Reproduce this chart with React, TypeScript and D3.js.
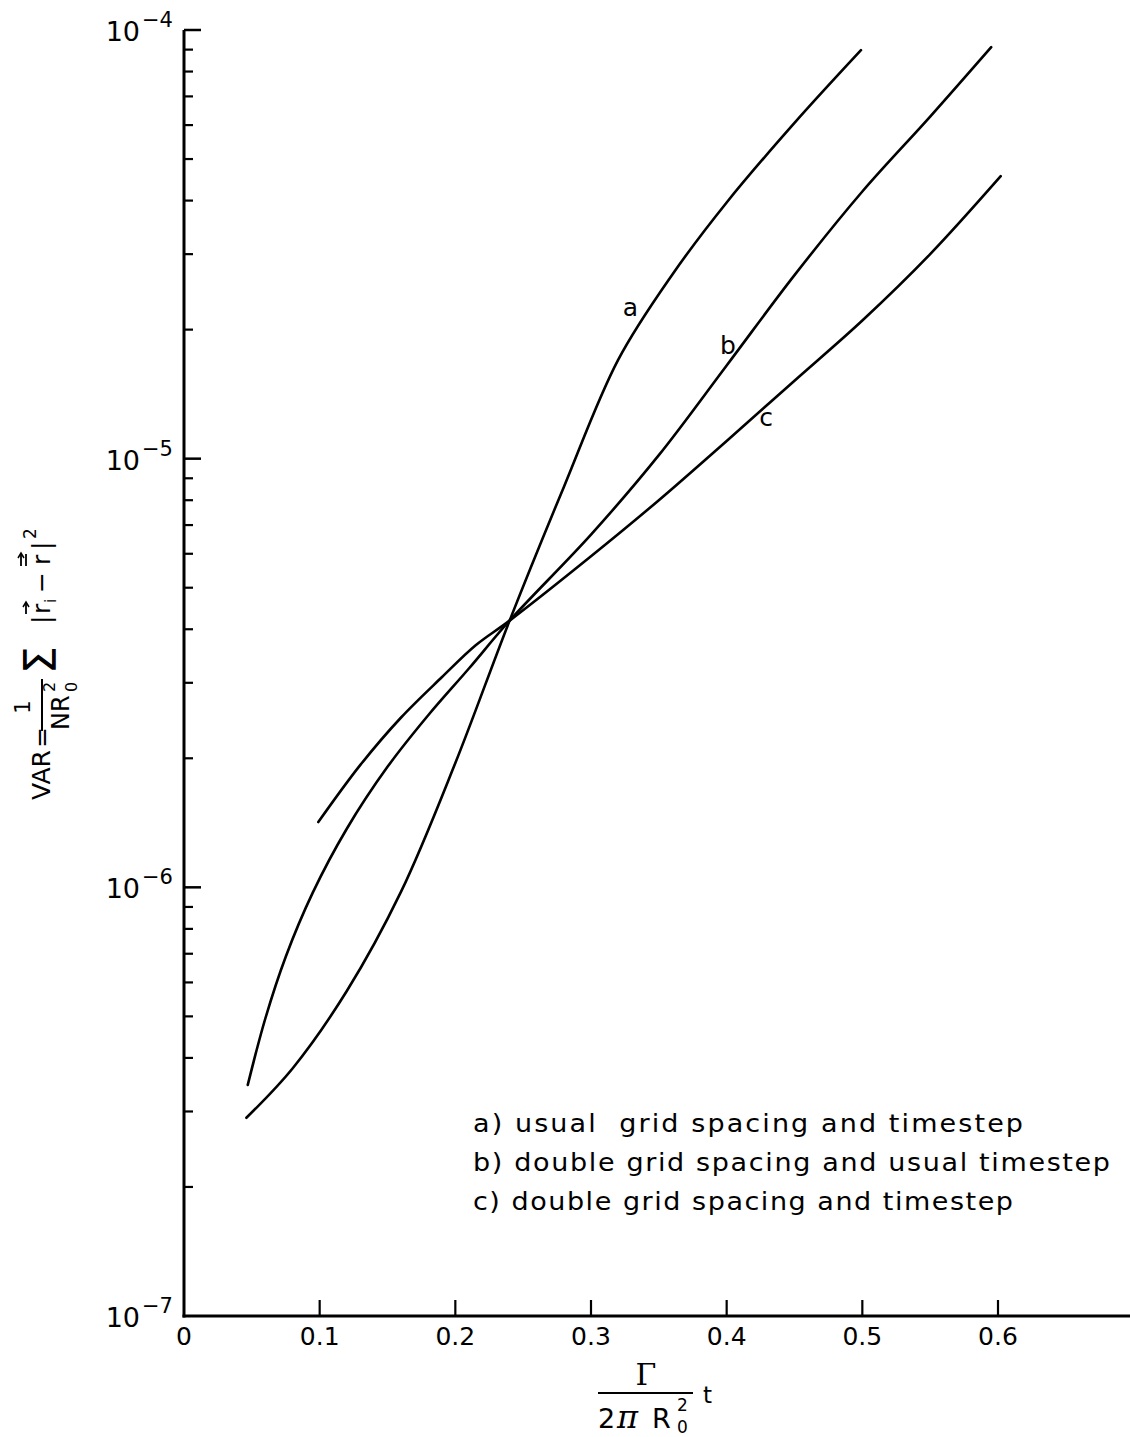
import React from 'react';
import * as d3 from 'd3';

// ---- data ----
const xTickValues = [0, 0.1, 0.2, 0.3, 0.4, 0.5, 0.6];
const xTickLabels = ['0', '0.1', '0.2', '0.3', '0.4', '0.5', '0.6'];
const yDecadeExps = [-7, -6, -5, -4];
const yDecadeLabels = ['−7', '−6', '−5', '−4'];

const curveA_t = [0.046, 0.08, 0.12, 0.16, 0.20, 0.24, 0.28, 0.32, 0.36, 0.40, 0.45, 0.499];
const curveA_var = [2.90e-7, 3.78e-7, 5.73e-7, 9.77e-7, 1.95e-6, 4.19e-6, 8.59e-6, 1.70e-5, 2.69e-5, 3.96e-5, 6.07e-5, 8.97e-5];

const curveB_t = [0.047, 0.06, 0.075, 0.095, 0.12, 0.15, 0.18, 0.21, 0.24, 0.30, 0.35, 0.40, 0.45, 0.50, 0.55, 0.595];
const curveB_var = [3.46e-7, 4.95e-7, 6.89e-7, 9.73e-7, 1.37e-6, 1.91e-6, 2.52e-6, 3.24e-6, 4.19e-6, 6.65e-6, 1.019e-5, 1.65e-5, 2.68e-5, 4.20e-5, 6.28e-5, 9.12e-5];

const curveC_t = [0.099, 0.13, 0.16, 0.19, 0.215, 0.24, 0.30, 0.35, 0.40, 0.45, 0.50, 0.55, 0.602];
const curveC_var = [1.42e-6, 1.93e-6, 2.49e-6, 3.09e-6, 3.67e-6, 4.19e-6, 5.92e-6, 8.0e-6, 1.10e-5, 1.52e-5, 2.10e-5, 3.00e-5, 4.56e-5];

const curveNames = ['a', 'b', 'c'];
const curveLabelT = [0.329, 0.401, 0.429];
const curveLabelVar = [2.26e-5, 1.84e-5, 1.25e-5];

const legendLines = [
  'a) usual  grid spacing and timestep',
  'b) double grid spacing and usual timestep',
  'c) double grid spacing and timestep',
];
const legendWidths = [550, 637, 540];

const FONT = '"DejaVu Sans", "Liberation Sans", Arial, sans-serif';

export default function App() {
  const W = 1130, H = 1437;
  const x = d3.scaleLinear().domain([0, 0.6]).range([184, 998]);
  const y = d3.scaleLog().domain([1e-7, 1e-4]).range([1316, 30]);
  const x0 = x(0);
  const yBottom = y(1e-7);

  const line = d3.line<[number, number]>()
    .x(d => x(d[0]))
    .y(d => y(d[1]))
    .curve(d3.curveCatmullRom.alpha(0.5));

  const series = [
    d3.zip(curveA_t, curveA_var) as [number, number][],
    d3.zip(curveB_t, curveB_var) as [number, number][],
    d3.zip(curveC_t, curveC_var) as [number, number][],
  ];

  const minor: number[] = [];
  for (let e = -7; e < -4; e++) {
    for (let m = 2; m <= 9; m++) minor.push(m * Math.pow(10, e));
  }

  const tx = 50, ty = 800;
  const sx = 1.08;

  return (
    <svg width={W} height={H} style={{ position: 'absolute', left: 0, top: 0, background: '#fff' }}
      fontFamily={FONT}>
      <rect x={0} y={0} width={W} height={H} fill="#fff" />
      {/* axes */}
      <line x1={x0} y1={y(1e-4)} x2={x0} y2={yBottom + 1.5} stroke="#000" strokeWidth={3} />
      <line x1={x0 - 1.5} y1={yBottom} x2={W} y2={yBottom} stroke="#000" strokeWidth={3} />
      {yDecadeExps.map((e, i) => {
        const v = Math.pow(10, e);
        const yy = y(v);
        return (
          <g key={'yd' + e}>
            {e !== -7 && <line x1={x0} x2={x0 + 17} y1={yy} y2={yy} stroke="#000" strokeWidth={2.5} />}
            <text x={140} y={yy + 11} fontSize={27} textAnchor="end">10</text>
            <text x={142} y={yy - 3} fontSize={21}>{yDecadeLabels[i]}</text>
          </g>
        );
      })}
      {minor.map(v => (
        <line key={'ym' + v} x1={x0} x2={x0 + 9} y1={y(v)} y2={y(v)} stroke="#000" strokeWidth={2.2} />
      ))}
      {xTickValues.map((v, i) => (
        <g key={'xt' + v}>
          {v > 0 && <line x1={x(v)} x2={x(v)} y1={yBottom} y2={yBottom - 16} stroke="#000" strokeWidth={2.2} />}
          <text x={x(v)} y={yBottom + 29} fontSize={25} textAnchor="middle">{xTickLabels[i]}</text>
        </g>
      ))}
      {series.map((s, i) => (
        <path key={'c' + i} d={line(s) || ''} fill="none" stroke="#000" strokeWidth={2.6} strokeLinecap="round" />
      ))}
      {curveNames.map((n, i) => (
        <text key={'cl' + n} x={x(curveLabelT[i])} y={y(curveLabelVar[i]) + 9} fontSize={25} textAnchor="middle">{n}</text>
      ))}
      {legendLines.map((t, i) => (
        <text key={'lg' + i} transform={`translate(473,${1132 + i * 39}) scale(${sx},1)`} fontSize={25}
          style={{ whiteSpace: 'pre' }}
          textLength={legendWidths[i] / sx} lengthAdjust="spacing">{t}</text>
      ))}
      {/* x axis title */}
      <text x={646} y={1385} fontSize={30} textAnchor="middle" fontFamily='"DejaVu Serif", serif'>Γ</text>
      <line x1={598} x2={693} y1={1393} y2={1393} stroke="#000" strokeWidth={2} />
      <text x={598} y={1428} fontSize={27}>2</text>
      <text x={617} y={1428} fontSize={32} fontStyle="italic" fontFamily='"DejaVu Serif", serif'>π</text>
      <text x={652} y={1428} fontSize={27}>R</text>
      <text x={677} y={1411} fontSize={17}>2</text>
      <text x={677} y={1433} fontSize={17}>0</text>
      <text x={703} y={1403} fontSize={23}>t</text>
      {/* y axis title */}
      <g transform={`translate(${tx},${ty}) rotate(-90)`} fontSize={25}>
        <text x={0} y={0}>VAR</text>
        <text x={52} y={0}>=</text>
        <text x={93} y={-20} fontSize={21} textAnchor="middle">1</text>
        <line x1={69} x2={121} y1={-8} y2={-8} stroke="#000" strokeWidth={2} />
        <text x={70} y={19} fontSize={24}>NR</text>
        <text x={108} y={5} fontSize={16}>2</text>
        <text x={108} y={27} fontSize={16}>0</text>
        <text x={126} y={6} fontSize={44}>Σ</text>
        <text x={176} y={0}>|</text>
        <text x={186} y={0}>r</text>
        <line x1={186} x2={197} y1={-24} y2={-24} stroke="#000" strokeWidth={1.8} />
        <path d="M193,-27 L198,-24 L193,-21" fill="none" stroke="#000" strokeWidth={1.5} />
        <text x={197} y={6} fontSize={15}>i</text>
        <text x={207} y={0}>−</text>
        <text x={235} y={0}>r</text>
        <line x1={234} x2={246} y1={-24} y2={-24} stroke="#000" strokeWidth={1.8} />
        <line x1={234} x2={246} y1={-29} y2={-29} stroke="#000" strokeWidth={1.8} />
        <path d="M242,-32 L247,-29 L242,-26" fill="none" stroke="#000" strokeWidth={1.5} />
        <text x={250} y={0}>|</text>
        <text x={261} y={-14} fontSize={17}>2</text>
      </g>
    </svg>
  );
}
